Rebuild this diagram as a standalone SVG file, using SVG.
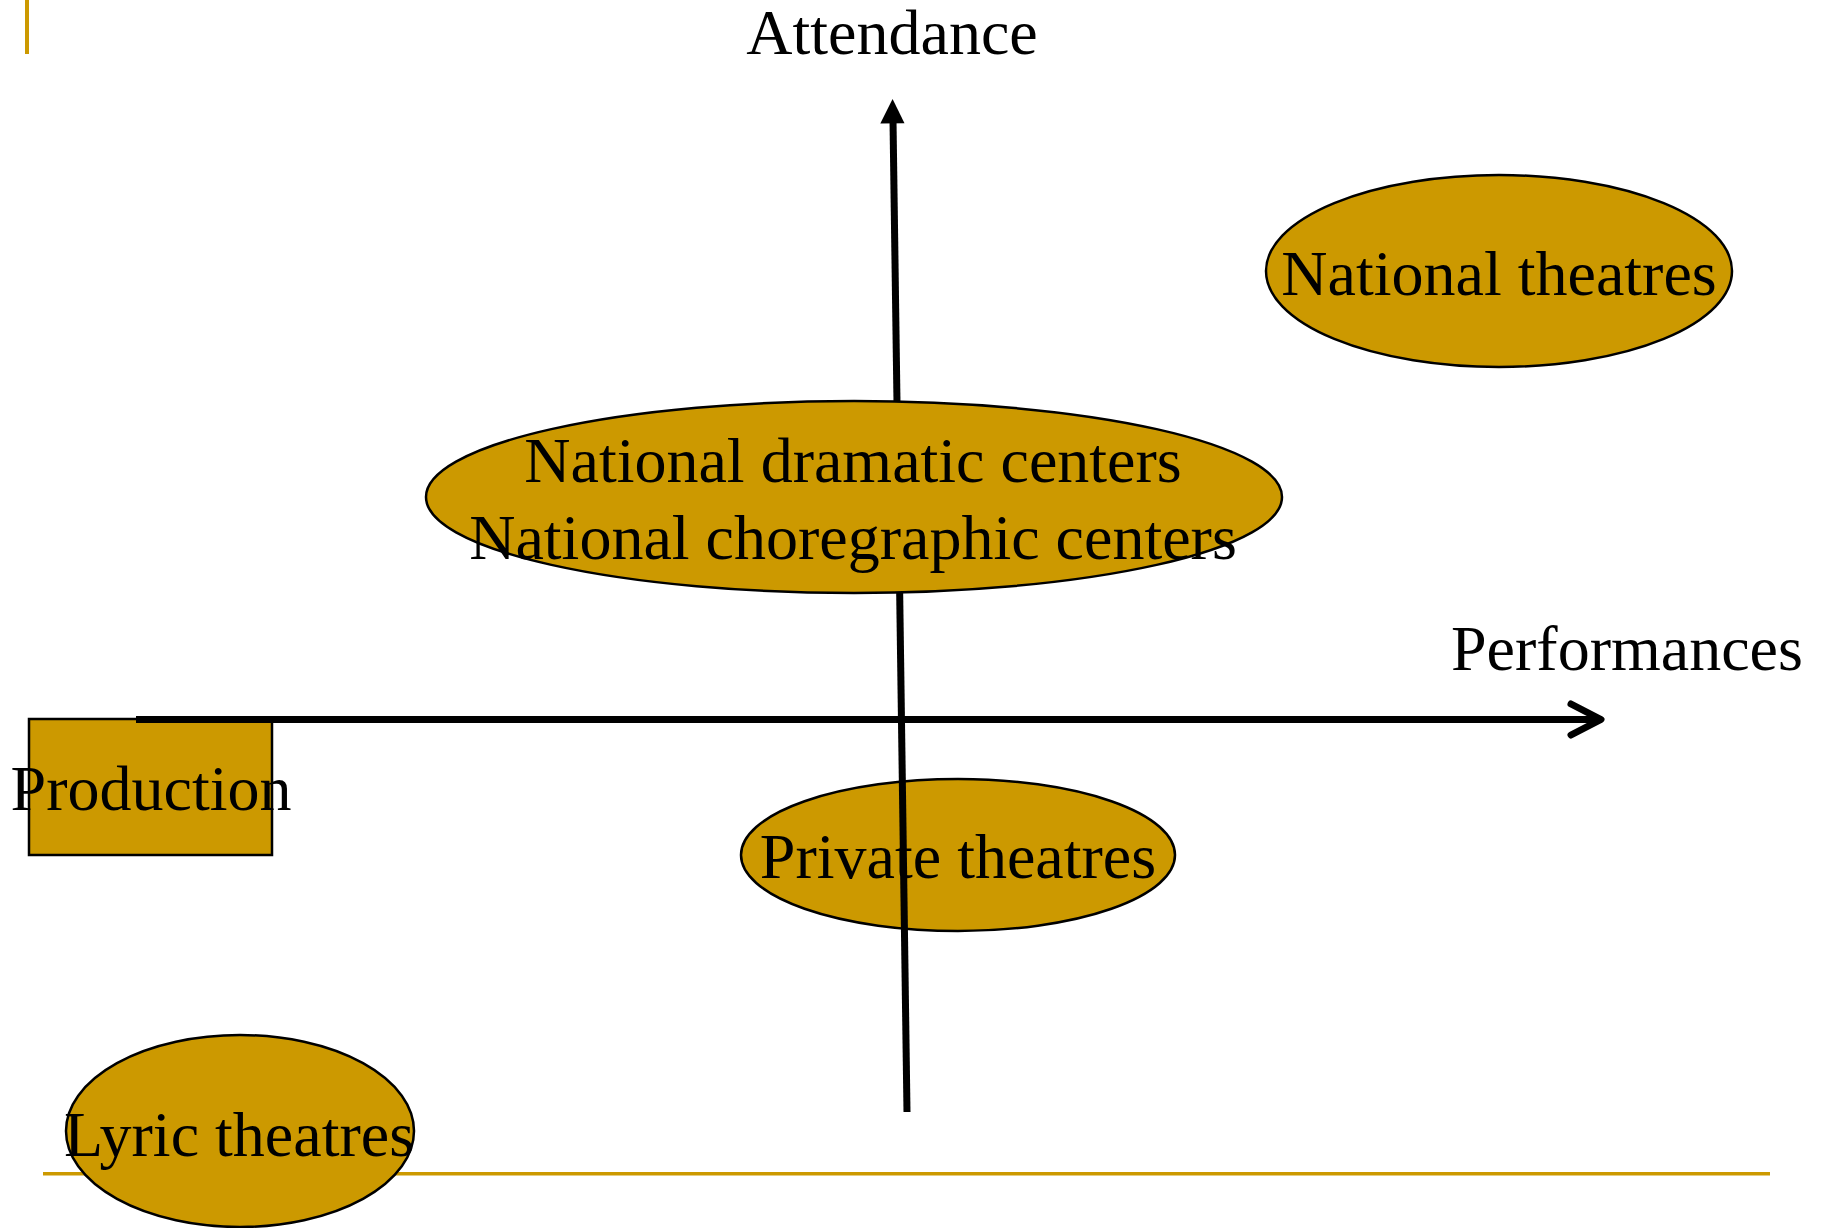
<svg xmlns="http://www.w3.org/2000/svg" width="1825" height="1228" viewBox="0 0 1825 1228">
<style>
.node{fill:#CC9900;stroke:#000;stroke-width:2.5}
.t{font-family:"Liberation Serif","Times New Roman",serif;font-size:64px;fill:#000}
.axis{stroke:#000;stroke-width:7;fill:none}
.deco{fill:#CC9900}
</style>
<rect id="deco-top" class="deco" x="25" y="0" width="4" height="54"/>
<rect id="deco-bottom" class="deco" x="43" y="1172" width="1727" height="3.5"/>
<g id="node-production">
<rect class="node" x="29" y="719" width="243" height="136"/>
<text class="t" x="151" y="810" text-anchor="middle">Production</text>
</g>
<g id="node-private">
<ellipse class="node" cx="958" cy="855" rx="217" ry="76"/>
<text class="t" x="958" y="878" text-anchor="middle">Private theatres</text>
</g>
<g id="node-lyric">
<ellipse class="node" cx="240" cy="1131" rx="174" ry="96"/>
<text class="t" x="239" y="1156" text-anchor="middle">Lyric theatres</text>
</g>
<g id="connectors">
<line class="axis" x1="907" y1="1112" x2="893" y2="120"/>
<polygon points="892.6,99 880.3,123.5 904.5,123.2" fill="#000"/>
<line class="axis" x1="136" y1="719.5" x2="1598" y2="719.5"/>
<polyline class="axis" points="1571,704 1601,719.5 1571,735" stroke-linecap="round" stroke-linejoin="round"/>
</g>
<g id="node-national-centers">
<ellipse class="node" cx="854" cy="497" rx="428" ry="96"/>
<text class="t" x="853" y="482" text-anchor="middle">National dramatic centers</text>
<text class="t" x="853" y="559" text-anchor="middle">National choregraphic centers</text>
</g>
<g id="node-national-theatres">
<ellipse class="node" cx="1499" cy="271" rx="233" ry="96"/>
<text class="t" x="1499" y="295" text-anchor="middle">National theatres</text>
</g>
<g id="labels">
<text class="t" x="892" y="54" text-anchor="middle">Attendance</text>
<text class="t" x="1451" y="670">Performances</text>
</g>
</svg>
